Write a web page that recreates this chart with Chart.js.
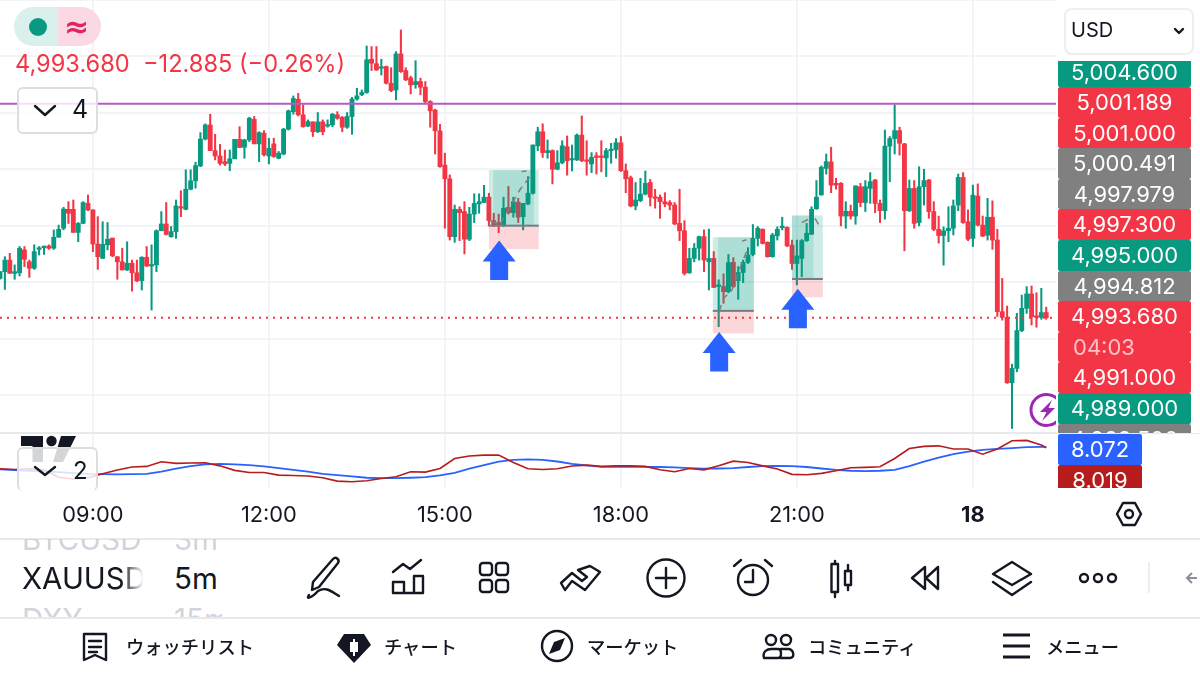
<!DOCTYPE html>
<html lang="ja">
<head>
<meta charset="UTF-8">
<title>XAUUSD 5m</title>
<script src="https://cdn.jsdelivr.net/npm/chart.js@4"></script>
<style>
html, body { margin: 0; padding: 0; background: #fff; width: 1200px; height: 675px; overflow: hidden; font-family: Inter, "Noto Sans CJK JP", sans-serif; color: #131722; }
canvas { position: absolute; left: 0; top: 0; }
.abs { position: absolute; white-space: pre; }
.hline { position: absolute; left: 0; width: 1200px; height: 2px; background: #e9e9ec; }
#tags, #indTags { position: absolute; left: 1058px; overflow: hidden; }
#tags { top: 61px; width: 133px; height: 372px; }
#indTags { top: 434px; width: 84px; height: 54px; }
.tag { height: 30.6px; line-height: 30.6px; text-align: center; color: #fff; font-size: 22px; border-radius: 2px; }
.paneBtn { position: absolute; left: 17px; width: 77px; border: 2px solid #dcdde0; border-radius: 6px; background: rgba(255,255,255,.82); }
.navText { position: absolute; top: 634px; font: 500 18.3px "Noto Sans CJK JP"; line-height: 24px; white-space: pre; }
svg { position: absolute; overflow: visible; }
.ic { fill: none; stroke: #131722; stroke-width: 2.4; stroke-linecap: round; stroke-linejoin: round; }
</style>
</head>
<body>
<canvas id="priceChart" width="1200" height="540"></canvas>

<!-- left top status pill -->
<div class="abs" style="left:14px;top:7px;width:44px;height:39px;background:#d9f0ec;border-radius:20px 0 0 20px"></div>
<div class="abs" style="left:58px;top:7px;width:43px;height:39px;background:#fbd9e4;border-radius:0 20px 20px 0"></div>
<div class="abs" style="left:29px;top:18px;width:18px;height:18px;border-radius:9px;background:#089981"></div>
<div class="abs" style="left:64px;top:8px;font:700 30px 'DejaVu Sans';line-height:38px;color:#e0245e">≈</div>
<div class="abs" style="left:15px;top:49px;font-size:23.6px;line-height:30px;color:#f23645">4,993.680  −12.885 (−0.26%)</div>

<div class="paneBtn" style="top:87px;height:43px"></div>
<svg style="left:0;top:0" width="10" height="10"><polyline class="ic" points="35,106 45,115 55,106" stroke-width="3"/></svg>
<div class="abs" style="left:72px;top:94px;font-size:25px;line-height:30px">4</div>

<!-- watermark logo, behind the pane button -->
<svg style="left:0;top:0" width="10" height="10">
  <path d="M21 436H43V462H32.5V446H21Z" fill="#131722"/>
  <circle cx="51.5" cy="441" r="5.2" fill="#131722"/>
  <path d="M61 436H76L63 462H53Z" fill="#131722"/>
</svg>
<div class="paneBtn" style="top:447px;height:42px;border-bottom:none"></div>
<svg style="left:0;top:0" width="10" height="10"><polyline class="ic" points="35,467 45,475 55,467"/></svg>
<div class="abs" style="left:73px;top:456px;font-size:24px;line-height:30px">2</div>

<!-- alert badge clipped by the price axis -->
<svg style="left:1029px;top:392px" width="27" height="37" viewBox="0 0 27 37">
  <clipPath id="badgeClip"><rect x="0" y="0" width="27" height="37"/></clipPath>
  <g clip-path="url(#badgeClip)">
    <circle cx="17.5" cy="18" r="15.5" fill="#fff" stroke="#9c27b0" stroke-width="3"/>
    <path d="M23 8L11 20H17.5L13 29L26 16H19.5Z" fill="#9c27b0"/>
  </g>
</svg>

<!-- price axis -->
<div class="abs" style="left:1064px;top:8px;width:126px;height:43px;border:2px solid #eeeef0;border-radius:8px"></div>
<div class="abs" style="left:1071px;top:15px;font-size:20px;line-height:30px">USD</div>
<svg style="left:0;top:0" width="10" height="10"><polyline class="ic" points="1175,29 1179,33 1183,29"/></svg>
<div id="tags"></div>
<div id="indTags"></div>
<svg style="left:0;top:0" width="10" height="10">
  <path class="ic" d="M1117 514L1123 503H1135L1141 514L1135 525H1123Z"/><circle class="ic" cx="1129" cy="514" r="4"/>
</svg>

<div class="hline" style="top:432px;width:1056px"></div>
<div class="hline" style="top:433px;left:1056px;width:144px;height:1px"></div>
<div class="hline" style="top:538px"></div>
<div class="hline" style="top:617px"></div>

<!-- symbol switcher -->
<div class="abs" style="left:22px;top:539px;width:200px;height:11px;overflow:hidden;color:#d1d4dc;font-size:29.5px;line-height:16px">
  <span style="position:absolute;top:-8px;left:0">BTCUSD</span><span style="position:absolute;top:-8px;left:152px">3m</span>
</div>
<div class="abs" style="left:22px;top:562px;font-size:29.5px;line-height:32px;width:124px;overflow:hidden;-webkit-mask-image:linear-gradient(90deg,#000 80%,transparent 98%)">XAUUSD</div>
<div class="abs" style="left:174px;top:562px;font-size:29.5px;line-height:32px">5m</div>
<div class="abs" style="left:22px;top:606px;width:200px;height:11px;overflow:hidden;color:#d1d4dc;font-size:29.5px;line-height:32px">
  <span style="position:absolute;top:-3px;left:0">DXY</span><span style="position:absolute;top:-3px;left:152px">15m</span>
</div>

<!-- toolbar -->
<svg style="left:0;top:0" width="10" height="10">
  <path class="ic" d="M313 582L333 559C336 556 340 560 338 563L319 587L312 590Z"/><path class="ic" d="M309 595C305 600 312 598 318 591C326 586 332 592 339 596"/>
  <path class="ic" d="M393 593H423V576H414V593M404 593V582H393V593M393 572L403 564L410 569L421 560"/>
  <rect class="ic" x="480" y="563" width="12" height="12" rx="3"/><rect class="ic" x="496" y="563" width="12" height="12" rx="3"/><rect class="ic" x="480" y="580" width="12" height="12" rx="3"/><rect class="ic" x="496" y="580" width="12" height="12" rx="3"/>
  <path class="ic" d="M561 583L572 573L582 581L587 577L578 570L590 566L600 572L585 590L572 581L565 590Z"/>
  <circle class="ic" cx="666" cy="578" r="18.5"/><path class="ic" d="M666 568V588M656 578H676"/>
  <circle class="ic" cx="753" cy="580" r="15"/><path class="ic" d="M753 570V582H745M734 566L741 560M772 566L765 560"/>
  <path class="ic" d="M835 561V564M835 592V597"/><rect class="ic" x="831.5" y="564" width="6.5" height="28"/><rect class="ic" x="845" y="571" width="6" height="14"/><path class="ic" d="M848 565V571M848 585V590"/>
  <path class="ic" d="M925 567L912 578L925 589ZM938 567L926 578L938 589Z"/>
  <path class="ic" d="M1012 562L1031 574L1012 585L993 574ZM993 582L1012 595L1031 582"/>
  <circle class="ic" cx="1084" cy="578" r="4"/><circle class="ic" cx="1098" cy="578" r="4"/><circle class="ic" cx="1112" cy="578" r="4"/>
  <path d="M1149 562V593" stroke="#eceef2" stroke-width="2"/>
  <path d="M1197 578H1187M1192 573L1187 578L1192 583" fill="none" stroke="#8a8e99" stroke-width="2"/>
</svg>

<!-- bottom navigation -->
<svg style="left:0;top:0" width="10" height="10">
  <path class="ic" d="M84 634H106V660L95 655L84 660ZM89 641H101M89 647H101M89 652H97" stroke-width="2.6"/>
  <path d="M344 634H364L371 645L354 663L337 645Z" fill="#131722"/><path d="M354 639V656M351 643H357V651H351Z" stroke="#fff" stroke-width="2" fill="#fff"/>
  <circle class="ic" cx="557" cy="646" r="15"/><path d="M565 638L560 650L549 654L554 642Z" fill="#131722"/>
  <circle class="ic" cx="771" cy="640" r="5"/><circle class="ic" cx="786" cy="640" r="5"/><path class="ic" d="M764 658C762 651 768 649 771 649H778C782 649 782 658 778 658ZM781 649H789C794 650 795 658 790 658H780"/>
  <path d="M1003 635H1030M1003 646H1030M1003 657H1030" stroke="#131722" stroke-width="3"/>
</svg>
<div class="navText" style="left:126px">ウォッチリスト</div>
<div class="navText" style="left:384px">チャート</div>
<div class="navText" style="left:587px">マーケット</div>
<div class="navText" style="left:808px">コミュニティ</div>
<div class="navText" style="left:1046px">メニュー</div>

<script>
// candles, one per 5 minutes starting 07:25
var opens = [
4995.13,4995.37,4995.78,4995.31,4995.33,4996.14,4995.72,4995.49,4996.16,4996.22,
4996.28,4996.20,4996.59,4996.91,4997.58,4997.58,4996.76,4997.08,4997.79,4997.56,
4996.35,4995.84,4996.32,4996.56,4995.90,4995.72,4995.43,4995.67,4995.33,4995.05,
4995.88,4995.57,4995.61,4996.82,4997.06,4996.61,4996.79,4997.65,4997.58,4998.29,
4998.59,4999.12,5000.07,5000.57,4999.66,4999.47,4999.27,4999.21,4999.37,5000.06,
4999.78,5000.04,5000.77,4999.90,5000.28,4999.47,4999.90,4999.39,4999.54,5000.42,
5001.04,5001.48,5000.93,5000.53,5000.68,5000.33,5000.68,5000.53,5000.57,5000.93,
5000.84,5000.49,5000.87,5001.49,5001.64,5001.72,5002.90,5002.74,5002.58,5002.64,
5002.05,5001.81,5003.09,5002.50,5002.24,5002.00,5002.11,5001.91,5001.40,5001.10,
5000.36,4999.15,4998.66,4996.61,4997.58,4997.50,4996.52,4997.41,4997.77,4997.82,
4998.01,4997.18,4997.11,4997.03,4997.65,4997.46,4997.83,4997.32,4997.77,4998.15,
4999.83,5000.33,4999.59,4999.66,4999.00,4999.23,4999.80,4999.33,4999.33,5000.21,
4999.33,4999.19,4999.47,4999.47,4999.40,4999.66,4999.69,4999.94,4998.95,4998.70,
4997.70,4997.89,4998.12,4998.53,4998.01,4998.01,4997.85,4997.82,4997.73,4997.08,
4996.82,4995.33,4995.84,4996.20,4996.61,4995.72,4995.84,4994.84,4994.84,4994.66,
4995.70,4995.05,4995.34,4995.70,4995.98,4996.55,4996.87,4996.41,4995.90,4996.64,
4996.93,4996.94,4996.31,4995.66,4995.84,4996.47,4996.70,4997.60,4998.09,4999.03,
4999.26,4998.50,4998.50,4997.34,4997.51,4997.34,4998.38,4997.82,4998.32,4998.62,
4997.79,4997.53,4999.82,5000.09,5000.37,4999.90,4997.53,4998.32,4997.11,4998.38,
4998.62,4997.50,4996.87,4996.65,4996.82,4996.91,4997.73,4998.71,4997.14,4996.55,
4998.05,4997.02,4996.66,4997.30,4996.49,4993.95,4993.75,4991.43,4991.94,4993.28,
4994.07,4994.58,4993.77,4993.75,4993.92];
var highs = [
4995.37,4995.90,4996.02,4995.61,4996.26,4996.26,4995.78,4996.32,4996.26,4996.28,
4996.32,4996.85,4997.02,4997.65,4997.85,4997.91,4997.11,4997.85,4998.09,4997.56,
4997.32,4997.14,4997.11,4996.56,4995.90,4996.20,4996.43,4995.78,4995.78,4995.90,
4996.26,4996.32,4996.85,4997.50,4997.82,4996.97,4997.91,4998.24,4998.98,4998.98,
4999.25,5000.30,5000.61,5000.95,5000.24,4999.88,4999.68,4999.68,5000.06,5000.51,
5000.06,5000.84,5000.87,5000.33,5000.37,5000.10,5000.10,4999.63,5000.45,5001.10,
5001.60,5001.69,5001.28,5000.75,5000.68,5001.01,5000.75,5000.75,5000.98,5001.04,
5000.87,5001.01,5001.55,5001.87,5001.81,5003.37,5003.35,5003.35,5002.90,5002.66,
5002.60,5003.17,5003.94,5002.60,5002.30,5002.85,5002.23,5002.11,5001.43,5001.13,
5000.59,4999.57,4998.80,4997.73,4997.67,4997.85,4997.65,4998.13,4998.13,4998.43,
4998.15,4997.44,4997.41,4998.01,4998.39,4998.01,4997.97,4997.79,4998.74,4999.86,
5000.49,5000.61,5000.04,4999.69,4999.66,5000.01,5000.18,4999.86,5000.25,5000.89,
5000.01,4999.59,4999.59,5000.01,4999.74,4999.92,5000.09,5000.16,4999.19,4998.76,
4998.53,4998.68,4998.94,4998.64,4998.29,4998.09,4998.17,4997.89,4997.82,4998.29,
4997.18,4996.20,4996.37,4996.63,4996.85,4996.88,4996.08,4995.08,4995.29,4995.98,
4995.87,4995.55,4995.78,4996.22,4997.04,4996.97,4996.89,4996.43,4996.73,4996.96,
4997.30,4996.96,4996.49,4996.49,4996.51,4997.08,4997.67,4998.60,4999.12,4999.54,
4999.78,4998.68,4998.53,4997.85,4997.73,4998.41,4998.50,4998.60,4998.88,4998.64,
4997.91,5000.39,5000.16,5001.28,5000.49,4999.92,4998.62,4998.60,4999.09,4999.00,
4998.64,4997.85,4997.34,4996.96,4997.67,4997.91,4998.83,4998.88,4997.56,4998.44,
4998.48,4997.34,4997.97,4997.88,4996.87,4995.13,4994.15,4992.09,4993.89,4994.54,
4994.84,4994.86,4994.62,4994.78,4994.11];
var lows = [
4995.10,4994.74,4995.31,4995.10,4995.22,4995.55,4995.17,4995.45,4995.96,4995.98,
4996.16,4996.16,4996.59,4996.85,4997.08,4996.76,4996.43,4997.08,4997.53,4996.08,
4995.45,4995.84,4996.14,4995.90,4995.10,4995.43,4995.41,4994.68,4995.02,4994.72,
4995.55,4994.01,4995.37,4996.82,4996.67,4996.59,4996.55,4997.32,4997.56,4998.27,
4998.33,4999.09,5000.04,4999.66,4999.33,4999.15,4999.13,4998.95,4999.37,4999.77,
4999.39,4999.98,4999.90,4999.27,4999.47,4999.19,4999.42,4999.37,4999.51,5000.39,
5000.95,5000.89,5000.49,5000.51,5000.16,5000.30,5000.22,5000.49,5000.51,5000.77,
5000.33,5000.45,5000.24,5001.45,5001.61,5001.69,5002.50,5002.50,5002.34,5002.02,
5001.75,5001.46,5002.43,5002.14,5001.67,5001.87,5001.64,5001.34,5000.49,4999.54,
4999.07,4996.91,4996.49,4996.41,4996.47,4996.00,4996.47,4997.11,4997.44,4997.82,
4996.99,4996.97,4996.75,4996.97,4997.41,4997.30,4997.11,4996.85,4997.74,4998.12,
4999.66,4999.42,4999.39,4998.48,4998.98,4999.19,4998.79,4998.94,4999.31,4999.27,
4998.79,4998.88,4998.83,4998.91,4998.74,4999.21,4999.39,4998.92,4998.17,4997.67,
4997.56,4997.85,4998.09,4997.70,4997.62,4997.26,4997.67,4997.56,4997.03,4996.47,
4995.25,4995.31,4995.72,4995.78,4995.37,4994.72,4994.81,4993.42,4994.25,4994.62,
4994.81,4994.39,4994.98,4995.66,4995.93,4996.28,4996.35,4995.88,4995.88,4996.49,
4996.85,4996.26,4995.45,4994.90,4995.19,4996.44,4996.68,4997.58,4998.08,4998.83,
4998.17,4998.29,4996.99,4996.91,4997.23,4997.05,4997.67,4997.50,4997.79,4997.46,
4997.11,4997.23,4998.56,4999.54,4999.50,4996.11,4997.50,4996.91,4996.99,4997.73,
4997.26,4996.82,4996.38,4995.60,4996.43,4996.67,4997.53,4997.08,4996.47,4996.26,
4996.99,4996.61,4996.49,4996.16,4993.78,4993.65,4991.41,4989.81,4991.82,4993.24,
4993.89,4993.48,4993.40,4993.68,4993.68];
var closes = [
4995.37,4995.78,4995.31,4995.37,4996.20,4995.81,4995.49,4996.08,4996.20,4996.26,
4996.20,4996.59,4996.87,4997.59,4997.44,4996.76,4997.08,4997.82,4997.56,4996.35,
4995.90,4996.34,4996.52,4995.93,4995.72,4995.43,4995.67,4995.33,4995.04,4995.88,
4995.57,4995.61,4996.82,4997.06,4996.69,4996.79,4997.70,4997.62,4998.29,4998.59,
4999.13,5000.07,5000.57,4999.66,4999.47,4999.21,4999.19,4999.37,5000.06,4999.77,
5000.04,5000.81,4999.90,5000.30,4999.51,4999.74,4999.45,4999.57,5000.42,5001.07,
5001.51,5000.93,5000.51,5000.69,5000.33,5000.68,5000.33,5000.57,5000.95,5000.81,
5000.49,5000.87,5001.49,5001.60,5001.72,5002.88,5002.76,5002.52,5002.62,5002.05,
5001.79,5003.09,5002.46,5002.17,5001.99,5002.11,5001.91,5001.40,5001.07,5000.36,
4999.09,4998.66,4996.61,4997.58,4997.46,4996.52,4997.41,4997.79,4997.85,4998.01,
4997.18,4997.03,4997.01,4997.62,4997.46,4997.85,4997.30,4997.79,4998.15,4999.86,
5000.33,4999.59,4999.66,4999.00,4999.23,4999.83,4999.30,4999.35,5000.21,4999.30,
4999.28,4999.42,4999.42,4999.42,4999.66,4999.71,4999.94,4998.95,4998.66,4997.70,
4997.91,4998.12,4998.50,4998.01,4997.97,4997.85,4997.77,4997.73,4997.06,4996.82,
4995.31,4995.84,4996.20,4996.61,4995.78,4995.84,4994.81,4994.90,4994.66,4995.69,
4994.84,4995.34,4995.70,4995.96,4996.55,4996.91,4996.37,4995.90,4996.67,4996.87,
4996.96,4996.28,4995.66,4995.93,4996.47,4996.73,4997.58,4998.01,4999.07,4999.27,
4998.44,4998.44,4997.34,4997.51,4997.34,4998.41,4997.82,4998.38,4998.56,4997.79,
4997.53,4999.82,5000.09,5000.37,4999.92,4997.53,4998.32,4997.08,4998.38,4998.60,
4997.50,4996.87,4996.65,4996.82,4996.91,4997.70,4998.71,4997.11,4996.52,4998.08,
4997.02,4996.63,4997.30,4996.49,4993.95,4993.75,4991.43,4991.94,4993.28,4994.07,
4994.58,4993.77,4993.75,4993.92,4993.74];

// indicator pane, read about every third candle
var blueLine = [
6.87,6.84,6.80,6.76,6.73,6.68,6.64,6.62,6.61,6.62,6.64,6.75,6.91,7.05,7.14,7.17,7.14,7.10,7.03,6.94,
6.85,6.75,6.64,6.57,6.50,6.43,6.41,6.41,6.43,6.46,6.55,6.69,6.91,7.10,7.28,7.38,7.40,7.38,7.29,7.17,
7.08,7.01,7.01,7.01,7.01,7.00,6.98,6.94,6.91,6.92,6.94,7.00,7.05,7.06,7.05,7.00,6.92,6.85,6.80,6.78,
6.80,6.85,7.05,7.28,7.49,7.68,7.81,7.91,7.96,8.00,8.05,8.07,8.07];
var redLine = [
6.91,6.87,6.91,6.85,6.46,6.36,6.43,6.64,6.84,7.00,7.03,7.28,7.19,7.21,7.22,7.06,6.82,6.71,6.71,6.57,
6.55,6.52,6.43,6.25,6.22,6.27,6.39,6.48,6.75,6.73,6.92,7.45,7.58,7.63,7.63,7.24,6.91,6.87,6.91,7.05,
7.10,7.03,7.06,7.06,7.03,6.85,6.75,6.92,6.85,7.06,7.31,7.24,7.06,6.89,6.61,6.59,6.66,6.80,6.96,6.98,
7.01,7.45,7.98,8.09,8.12,7.95,7.95,7.68,7.95,8.39,8.41,8.16,8.02];

// x axis
var timeTicks = { '09:00': '09:00', '12:00': '12:00', '15:00': '15:00', '18:00': '18:00', '21:00': '21:00', '00:00': '18' };
var gridPrices = [5005, 5003, 5001, 4999, 4997, 4995, 4993, 4991];

// horizontal levels
var alertLevel = 5001.32;
var lastPrice = 4993.74;

// long position drawings, in candle numbers and prices
var boxStart = [100, 145.8, 162];
var boxEnd = [110.2, 154.2, 168.3];
var innerStart = [100.9, 146.9, 162];
var innerEnd = [109.2, 154.2, 166.4];
var boxTarget = [4998.97, 4996.59, 4997.36];
var boxEntry = [4997.0, 4993.98, 4995.11];
var boxStop = [4996.17, 4993.18, 4994.46];
var arrowCandle = [102.1, 147.1, 163.2];
var arrowTip = [4996.47, 4993.23, 4994.76];
var tradePaths = [
    [[100.2, 4997.18], [102.2, 4997.03], [106.4, 4998.29], [109, 4998.86]],
    [[106.7, 4998.92], [107.7, 4998.94]],
    [[147.1, 4993.95], [148, 4994.42], [149.7, 4994.72], [152, 4995.78], [153, 4996.2]],
    [[151.8, 4996.46], [152.7, 4996.5]],
    [[166.7, 4997.26], [167.5, 4997.02]],
    [[164, 4997.11], [165.4, 4997.23]]
];

// price axis tags, top to bottom
var tagTexts = ['5,004.600', '5,001.189', '5,001.000', '5,000.491', '4,997.979', '4,997.300', '4,995.000', '4,994.812', '4,993.680', '04:03', '4,991.000', '4,989.000', '4,983.500'];
var tagKinds = ['up', 'down', 'down', 'grey', 'grey', 'down', 'up', 'grey', 'down', 'timer', 'down', 'up', 'grey'];
var indTexts = ['8.072', '8.019'];

var tagColors = { up: '#089981', down: '#f23645', timer: '#f23645', grey: '#808080' };
var tagsBox = document.getElementById('tags');
tagTexts.forEach(function (text, i) {
    var el = document.createElement('div');
    el.className = 'tag';
    el.textContent = text;
    el.style.background = tagColors[tagKinds[i]];
    if (tagKinds[i] === 'timer') {
        el.style.color = '#ffc2c8';
        el.style.textAlign = 'left';
        el.style.paddingLeft = '15px';
    }
    if (i === 0) el.style.marginTop = '-4.5px';
    tagsBox.appendChild(el);
});
var indColors = ['#2962ff', '#b71c1c'];
indTexts.forEach(function (text, i) {
    var el = document.createElement('div');
    el.className = 'tag';
    el.textContent = text;
    el.style.background = indColors[i];
    document.getElementById('indTags').appendChild(el);
});

var categories = [];
for (var n = 0; n < 217; n++) {
    var mins = (7 * 60 + 25 + n * 5) % 1440;
    categories.push(String(Math.floor(mins / 60)).padStart(2, '0') + ':' + String(mins % 60).padStart(2, '0'));
}

function sparseLine(values) {
    var out = categories.map(function () { return null; });
    values.forEach(function (v, k) { out[Math.min(k * 3, opens.length - 1)] = v; });
    return out;
}

var candleColors = opens.map(function (o, i) { return closes[i] >= o ? '#089981' : '#f23645'; });

var drawingsPlugin = {
    id: 'drawings',
    afterDatasetsDraw: function (chart) {
        var ctx = chart.ctx, xs = chart.scales.x, ys = chart.scales.y;
        ctx.save();
        boxStart.forEach(function (s, i) {
            var x0 = xs.getPixelForValue(s), x1 = xs.getPixelForValue(boxEnd[i]);
            var top = ys.getPixelForValue(boxTarget[i]), mid = ys.getPixelForValue(boxEntry[i]), bot = ys.getPixelForValue(boxStop[i]);
            ctx.fillStyle = 'rgba(8,153,129,0.2)';
            ctx.fillRect(x0, top, x1 - x0, mid - top);
            var ix0 = xs.getPixelForValue(innerStart[i]), ix1 = xs.getPixelForValue(innerEnd[i]);
            ctx.fillStyle = 'rgba(8,153,129,0.16)';
            ctx.fillRect(ix0, top, ix1 - ix0, mid - top);
            ctx.fillStyle = 'rgba(242,54,69,0.2)';
            ctx.fillRect(x0, mid, x1 - x0, bot - mid);
            ctx.fillStyle = '#787b86';
            ctx.fillRect(x0, mid - 1, x1 - x0, 2);
        });
        ctx.strokeStyle = '#7f7f7f';
        ctx.lineWidth = 1.5;
        ctx.setLineDash([7, 5]);
        tradePaths.forEach(function (path) {
            ctx.beginPath();
            path.forEach(function (p, k) {
                var px = xs.getPixelForValue(p[0]), py = ys.getPixelForValue(p[1]);
                if (k === 0) ctx.moveTo(px, py); else ctx.lineTo(px, py);
            });
            ctx.stroke();
        });
        ctx.setLineDash([]);
        ctx.fillStyle = '#2962ff';
        arrowCandle.forEach(function (c, i) {
            var x = xs.getPixelForValue(c), y = ys.getPixelForValue(arrowTip[i]);
            ctx.beginPath();
            ctx.moveTo(x, y);
            ctx.lineTo(x + 16.5, y + 21);
            ctx.lineTo(x + 9, y + 21);
            ctx.lineTo(x + 9, y + 39.5);
            ctx.lineTo(x - 9, y + 39.5);
            ctx.lineTo(x - 9, y + 21);
            ctx.lineTo(x - 16.5, y + 21);
            ctx.closePath();
            ctx.fill();
        });
        ctx.restore();
    }
};

new Chart(document.getElementById('priceChart').getContext('2d'), {
    type: 'bar',
    plugins: [drawingsPlugin],
    data: {
        labels: categories,
        datasets: [
            { type: 'line', data: categories.map(function () { return alertLevel; }), yAxisID: 'y', borderColor: '#b25cc4', borderWidth: 2, pointRadius: 0, order: 1 },
            { type: 'line', data: categories.map(function () { return lastPrice; }), yAxisID: 'y', borderColor: '#f23645', borderWidth: 2, borderDash: [2, 5], pointRadius: 0, order: 1 },
            { type: 'line', data: sparseLine(blueLine), yAxisID: 'yInd', borderColor: '#2962ff', borderWidth: 1.8, pointRadius: 0, spanGaps: true, order: 2 },
            { type: 'line', data: sparseLine(redLine), yAxisID: 'yInd', borderColor: '#b71c1c', borderWidth: 1.6, pointRadius: 0, spanGaps: true, order: 1 },
            { data: opens.map(function (o, i) { return [Math.min(o, closes[i]), Math.max(o, closes[i])]; }), yAxisID: 'y', backgroundColor: candleColors, barThickness: 4.2, minBarLength: 1.5, grouped: false, order: 3 },
            { data: opens.map(function (o, i) { return [lows[i], highs[i]]; }), yAxisID: 'y', backgroundColor: candleColors, barThickness: 1.4, grouped: false, order: 4 }
        ]
    },
    options: {
        responsive: false,
        animation: false,
        events: [],
        layout: { autoPadding: false, padding: { left: 0, right: 144, top: 0, bottom: 0 } },
        plugins: { legend: { display: false }, tooltip: { enabled: false } },
        scales: {
            x: {
                offset: false,
                grid: { offset: false, color: '#f3f4f7', lineWidth: 2, drawTicks: false },
                border: { display: false },
                afterBuildTicks: function (scale) {
                    scale.ticks = scale.ticks.filter(function (t) { return timeTicks[categories[t.value]] && t.value > 0; });
                },
                afterFit: function (scale) { scale.height = 53; },
                ticks: {
                    autoSkip: false,
                    maxRotation: 0,
                    padding: 15,
                    color: '#131722',
                    font: function (c) { return { family: 'Inter', size: 21.8, weight: c.tick && c.tick.label === '18' ? '700' : '400' }; },
                    callback: function (value) { return timeTicks[categories[value]]; }
                }
            },
            // the first stacked scale lands at the bottom of the stack
            yInd: {
                position: 'left',
                stack: 'panes',
                stackWeight: 54,
                min: 5.94,
                max: 8.80,
                afterFit: function (scale) { scale.width = 0; },
                grid: { display: false },
                border: { display: false },
                ticks: { display: false }
            },
            y: {
                position: 'left',
                stack: 'panes',
                stackWeight: 433,
                min: 4989.65,
                max: 5005,
                afterBuildTicks: function (scale) { scale.ticks = gridPrices.map(function (v) { return { value: v }; }); },
                afterFit: function (scale) { scale.width = 0; },
                grid: { color: '#f3f4f7', lineWidth: 2, drawTicks: false },
                border: { display: false },
                ticks: { display: false }
            }
        }
    }
});
</script>
</body>
</html>
